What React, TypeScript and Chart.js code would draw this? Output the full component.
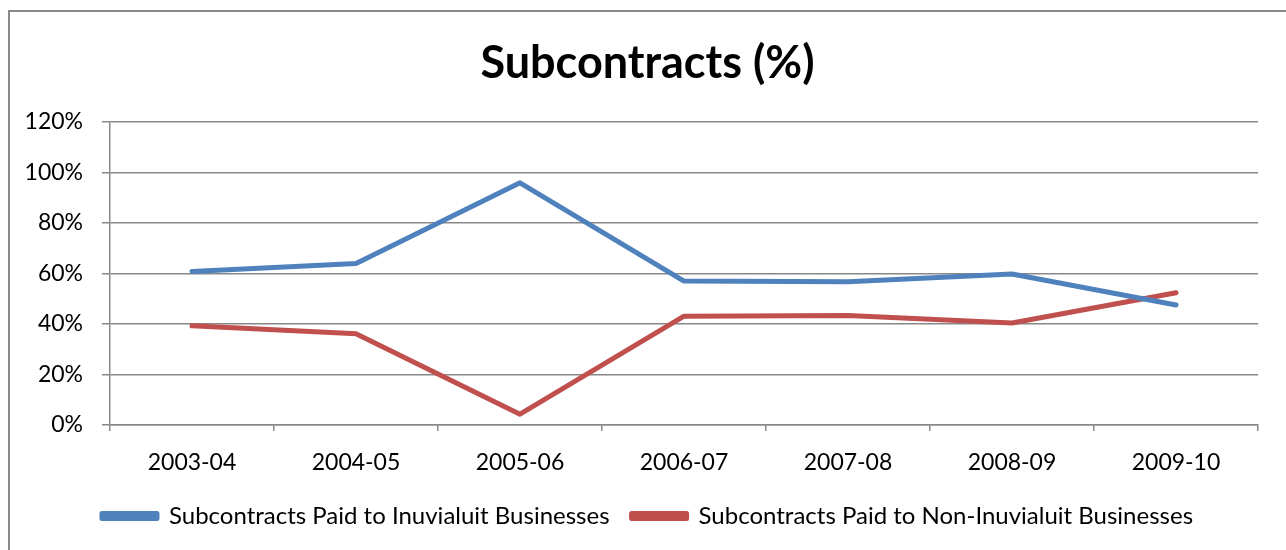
import React, { useEffect, useRef } from "react";
import { Chart, registerables } from "chart.js";

Chart.register(...registerables);

const categories = ["2003-04", "2004-05", "2005-06", "2006-07", "2007-08", "2008-09", "2009-10"];
const inuvialuit = [60.8, 64.0, 95.9, 57.0, 56.7, 59.8, 47.5];
const nonInuvialuit = [39.3, 36.1, 4.3, 43.1, 43.4, 40.4, 52.4];
const seriesNames = [
  "Subcontracts Paid to Inuvialuit Businesses",
  "Subcontracts Paid to Non-Inuvialuit Businesses",
];
const titleText = "Subcontracts (%)";

const FONT = "Lato, 'Open Sans', sans-serif";

// lets the y tick labels extend into the left layout padding
const unclipYLabels = {
  id: "unclipYLabels",
  afterLayout(chart: any) {
    if (chart.scales && chart.scales.y) chart.scales.y.left = 0;
  },
};

export default function App() {
  const ref = useRef<HTMLCanvasElement | null>(null);
  useEffect(() => {
    if (!ref.current) return;
    const chart = new Chart(ref.current, {
      type: "line",
      data: {
        labels: categories,
        datasets: [
          {
            label: seriesNames[0],
            data: inuvialuit,
            borderColor: "#4F81BD",
            backgroundColor: "#4F81BD",
            borderWidth: 5,
            pointRadius: 0,
            borderCapStyle: "round",
            borderJoinStyle: "round",
            tension: 0,
          },
          {
            label: seriesNames[1],
            data: nonInuvialuit,
            borderColor: "#C0504D",
            backgroundColor: "#C0504D",
            borderWidth: 5,
            pointRadius: 0,
            borderCapStyle: "round",
            borderJoinStyle: "round",
            tension: 0,
          },
        ],
      },
      plugins: [unclipYLabels],
      options: {
        responsive: false,
        animation: false,
        layout: { padding: { left: 37, right: 28, top: 0, bottom: 12 } },
        plugins: {
          title: {
            display: true,
            text: titleText,
            color: "#000",
            font: { family: FONT, size: 45, weight: "bold" },
            padding: { top: 36, bottom: 32 },
          },
          legend: {
            position: "bottom",
            labels: {
              color: "#000",
              font: { family: FONT, size: 24 },
              boxWidth: 55,
              boxHeight: 5,
              padding: 22,
            },
          },
          tooltip: { enabled: false },
        },
        scales: {
          x: {
            offset: true,
            afterFit: (scale: any) => {
              scale.height = 57;
            },
            grid: {
              display: true,
              offset: true,
              drawOnChartArea: false,
              color: "#888",
              lineWidth: 1.5,
              tickLength: 6,
            },
            border: { color: "#888", width: 1.5 },
            ticks: {
              color: "#000",
              font: { family: FONT, size: 23 },
              padding: 18,
              maxRotation: 0,
            },
          },
          y: {
            min: 0,
            max: 120,
            afterFit: (scale: any) => {
              scale.width = 73;
            },
            grid: {
              color: "#888",
              lineWidth: 1.5,
              tickLength: 8,
            },
            border: { color: "#888", width: 1.5 },
            ticks: {
              stepSize: 20,
              color: "#000",
              font: { family: FONT, size: 23 },
              padding: 19,
              callback: (v: any) => v + "%",
            },
          },
        },
      },
    });
    return () => chart.destroy();
  }, []);

  return (
    <>
      <div
        style={{
          position: "fixed",
          left: 8,
          top: 10,
          width: 1278,
          height: 540,
          borderLeft: "2px solid #8a8a8a",
          borderTop: "2px solid #8a8a8a",
          boxSizing: "border-box",
        }}
      />
      <canvas
        ref={ref}
        width={1286}
        height={550}
        style={{ position: "fixed", left: 0, top: 0, width: 1286, height: 550 }}
      />
    </>
  );
}
